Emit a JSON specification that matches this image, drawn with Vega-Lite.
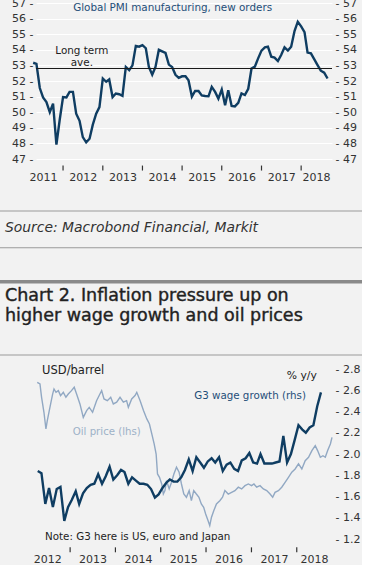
{
  "$schema": "https://vega.github.io/schema/vega-lite/v6.json",
  "background": "#f2f2f2",
  "padding": {"left": 0, "top": -3, "right": 0, "bottom": 0},
  "spacing": 0,
  "config": {
    "view": {"stroke": null},
    "font": "DejaVu Sans",
    "axis": {"labelFont": "DejaVu Sans", "labelFontSize": 11, "labelColor": "#333333", "domain": false, "ticks": false, "tickSize": 0, "labelFlush": false, "labelOverlap": false},
    "text": {"font": "DejaVu Sans"}
  },
  "datasets": {
    "yearsTop": [
      {"date": "2012-01-01"}, {"date": "2013-01-01"}, {"date": "2014-01-01"}, {"date": "2015-01-01"},
      {"date": "2016-01-01"}, {"date": "2017-01-01"}, {"date": "2018-01-01"}
    ],
    "yearsBottom": [
      {"date": "2013-01-01"}, {"date": "2014-01-01"}, {"date": "2015-01-01"},
      {"date": "2016-01-01"}, {"date": "2017-01-01"}, {"date": "2018-01-01"}
    ],
    "pmi": [
      {"date": "2011-04-01", "pmi": 53.17}, {"date": "2011-05-01", "pmi": 53.1}, {"date": "2011-06-01", "pmi": 51.55}, {"date": "2011-07-01", "pmi": 50.95},
      {"date": "2011-08-01", "pmi": 50.65}, {"date": "2011-09-01", "pmi": 50.0}, {"date": "2011-10-01", "pmi": 50.55}, {"date": "2011-11-01", "pmi": 47.92},
      {"date": "2011-12-01", "pmi": 49.5}, {"date": "2012-01-01", "pmi": 50.97}, {"date": "2012-02-01", "pmi": 50.95}, {"date": "2012-03-01", "pmi": 51.3},
      {"date": "2012-04-01", "pmi": 51.3}, {"date": "2012-05-01", "pmi": 49.9}, {"date": "2012-06-01", "pmi": 49.45}, {"date": "2012-07-01", "pmi": 48.4},
      {"date": "2012-08-01", "pmi": 48.07}, {"date": "2012-09-01", "pmi": 48.3}, {"date": "2012-10-01", "pmi": 49.2}, {"date": "2012-11-01", "pmi": 49.9},
      {"date": "2012-12-01", "pmi": 50.33}, {"date": "2013-01-01", "pmi": 52.16}, {"date": "2013-02-01", "pmi": 51.95}, {"date": "2013-03-01", "pmi": 52.1},
      {"date": "2013-04-01", "pmi": 50.97}, {"date": "2013-05-01", "pmi": 51.2}, {"date": "2013-06-01", "pmi": 51.15}, {"date": "2013-07-01", "pmi": 51.05},
      {"date": "2013-08-01", "pmi": 52.9}, {"date": "2013-09-01", "pmi": 52.7}, {"date": "2013-10-01", "pmi": 53.0}, {"date": "2013-11-01", "pmi": 54.25},
      {"date": "2013-12-01", "pmi": 54.2}, {"date": "2014-01-01", "pmi": 54.3}, {"date": "2014-02-01", "pmi": 54.1}, {"date": "2014-03-01", "pmi": 52.9},
      {"date": "2014-04-01", "pmi": 52.4}, {"date": "2014-05-01", "pmi": 52.9}, {"date": "2014-06-01", "pmi": 54.0}, {"date": "2014-07-01", "pmi": 53.9},
      {"date": "2014-08-01", "pmi": 53.8}, {"date": "2014-09-01", "pmi": 53.05}, {"date": "2014-10-01", "pmi": 52.9}, {"date": "2014-11-01", "pmi": 52.4},
      {"date": "2014-12-01", "pmi": 52.2}, {"date": "2015-01-01", "pmi": 52.3}, {"date": "2015-02-01", "pmi": 52.3}, {"date": "2015-03-01", "pmi": 52.05},
      {"date": "2015-04-01", "pmi": 51.0}, {"date": "2015-05-01", "pmi": 51.36}, {"date": "2015-06-01", "pmi": 51.36}, {"date": "2015-07-01", "pmi": 51.08},
      {"date": "2015-08-01", "pmi": 51.04}, {"date": "2015-09-01", "pmi": 51.02}, {"date": "2015-10-01", "pmi": 51.62}, {"date": "2015-11-01", "pmi": 51.3},
      {"date": "2015-12-01", "pmi": 50.87}, {"date": "2016-01-01", "pmi": 51.45}, {"date": "2016-02-01", "pmi": 50.44}, {"date": "2016-03-01", "pmi": 51.4},
      {"date": "2016-04-01", "pmi": 50.4}, {"date": "2016-05-01", "pmi": 50.37}, {"date": "2016-06-01", "pmi": 50.6}, {"date": "2016-07-01", "pmi": 51.2},
      {"date": "2016-08-01", "pmi": 51.1}, {"date": "2016-09-01", "pmi": 51.5}, {"date": "2016-10-01", "pmi": 52.8}, {"date": "2016-11-01", "pmi": 52.92},
      {"date": "2016-12-01", "pmi": 53.45}, {"date": "2017-01-01", "pmi": 53.95}, {"date": "2017-02-01", "pmi": 54.16}, {"date": "2017-03-01", "pmi": 54.2},
      {"date": "2017-04-01", "pmi": 53.56}, {"date": "2017-05-01", "pmi": 53.5}, {"date": "2017-06-01", "pmi": 53.28}, {"date": "2017-07-01", "pmi": 53.67},
      {"date": "2017-08-01", "pmi": 54.16}, {"date": "2017-09-01", "pmi": 53.95}, {"date": "2017-10-01", "pmi": 54.2}, {"date": "2017-11-01", "pmi": 55.2},
      {"date": "2017-12-01", "pmi": 55.8}, {"date": "2018-01-01", "pmi": 55.5}, {"date": "2018-02-01", "pmi": 55.13}, {"date": "2018-03-01", "pmi": 53.82},
      {"date": "2018-04-01", "pmi": 53.77}, {"date": "2018-05-01", "pmi": 53.4}, {"date": "2018-06-01", "pmi": 53.02}, {"date": "2018-07-01", "pmi": 52.66},
      {"date": "2018-08-01", "pmi": 52.53}, {"date": "2018-09-01", "pmi": 52.16}
    ],
    "wage": [
      {"date": "2012-04-15", "wage": 1.84}, {"date": "2012-05-15", "wage": 1.82}, {"date": "2012-06-15", "wage": 1.53}, {"date": "2012-07-15", "wage": 1.68},
      {"date": "2012-08-15", "wage": 1.5}, {"date": "2012-09-15", "wage": 1.67}, {"date": "2012-10-15", "wage": 1.69}, {"date": "2012-11-15", "wage": 1.37},
      {"date": "2012-12-15", "wage": 1.5}, {"date": "2013-01-15", "wage": 1.57}, {"date": "2013-02-15", "wage": 1.65}, {"date": "2013-03-15", "wage": 1.53},
      {"date": "2013-04-15", "wage": 1.63}, {"date": "2013-05-15", "wage": 1.68}, {"date": "2013-06-15", "wage": 1.71}, {"date": "2013-07-15", "wage": 1.72},
      {"date": "2013-08-15", "wage": 1.81}, {"date": "2013-09-15", "wage": 1.72}, {"date": "2013-10-15", "wage": 1.79}, {"date": "2013-11-15", "wage": 1.88},
      {"date": "2013-12-15", "wage": 1.76}, {"date": "2014-01-15", "wage": 1.8}, {"date": "2014-02-15", "wage": 1.85}, {"date": "2014-03-15", "wage": 1.83},
      {"date": "2014-04-15", "wage": 1.72}, {"date": "2014-05-15", "wage": 1.78}, {"date": "2014-06-15", "wage": 1.75}, {"date": "2014-07-15", "wage": 1.72},
      {"date": "2014-08-15", "wage": 1.72}, {"date": "2014-09-15", "wage": 1.71}, {"date": "2014-10-15", "wage": 1.67}, {"date": "2014-11-15", "wage": 1.59},
      {"date": "2014-12-15", "wage": 1.62}, {"date": "2015-01-15", "wage": 1.68}, {"date": "2015-02-15", "wage": 1.73}, {"date": "2015-03-15", "wage": 1.76},
      {"date": "2015-04-15", "wage": 1.74}, {"date": "2015-05-15", "wage": 1.74}, {"date": "2015-06-15", "wage": 1.78}, {"date": "2015-07-15", "wage": 1.85},
      {"date": "2015-08-15", "wage": 1.95}, {"date": "2015-09-15", "wage": 1.84}, {"date": "2015-10-15", "wage": 1.97}, {"date": "2015-11-15", "wage": 1.92},
      {"date": "2015-12-15", "wage": 1.87}, {"date": "2016-01-15", "wage": 1.93}, {"date": "2016-02-15", "wage": 1.96}, {"date": "2016-03-15", "wage": 1.92},
      {"date": "2016-04-15", "wage": 1.97}, {"date": "2016-05-15", "wage": 1.84}, {"date": "2016-06-15", "wage": 1.9}, {"date": "2016-07-15", "wage": 1.92},
      {"date": "2016-08-15", "wage": 1.86}, {"date": "2016-09-15", "wage": 1.84}, {"date": "2016-10-15", "wage": 1.94}, {"date": "2016-11-15", "wage": 1.96},
      {"date": "2016-12-15", "wage": 2.01}, {"date": "2017-01-15", "wage": 1.92}, {"date": "2017-02-15", "wage": 1.91}, {"date": "2017-03-15", "wage": 2.0},
      {"date": "2017-04-15", "wage": 1.91}, {"date": "2017-05-15", "wage": 1.91}, {"date": "2017-06-15", "wage": 1.91}, {"date": "2017-07-15", "wage": 1.92},
      {"date": "2017-08-15", "wage": 1.93}, {"date": "2017-09-15", "wage": 2.17}, {"date": "2017-10-15", "wage": 1.92}, {"date": "2017-11-15", "wage": 2.0},
      {"date": "2017-12-15", "wage": 2.13}, {"date": "2018-01-15", "wage": 2.27}, {"date": "2018-02-15", "wage": 2.23}, {"date": "2018-03-15", "wage": 2.2},
      {"date": "2018-04-15", "wage": 2.25}, {"date": "2018-05-15", "wage": 2.27}, {"date": "2018-06-15", "wage": 2.45}, {"date": "2018-07-15", "wage": 2.58}
    ],
    "oil": [
      {"date": "2012-04-11", "oil": 121.4}, {"date": "2012-05-03", "oil": 120.3}, {"date": "2012-05-16", "oil": 111.7}, {"date": "2012-06-04", "oil": 102.0},
      {"date": "2012-06-20", "oil": 91.2}, {"date": "2012-07-01", "oil": 96.6}, {"date": "2012-07-17", "oil": 103.1}, {"date": "2012-07-28", "oil": 107.4},
      {"date": "2012-08-13", "oil": 113.8}, {"date": "2012-08-24", "oil": 117.1}, {"date": "2012-09-09", "oil": 114.9}, {"date": "2012-09-28", "oil": 116.0},
      {"date": "2012-10-16", "oil": 112.8}, {"date": "2012-11-07", "oil": 114.9}, {"date": "2012-11-28", "oil": 111.7}, {"date": "2012-12-17", "oil": 113.8},
      {"date": "2013-01-12", "oil": 116.0}, {"date": "2013-02-03", "oil": 118.2}, {"date": "2013-02-22", "oil": 113.8}, {"date": "2013-03-21", "oil": 107.4},
      {"date": "2013-04-17", "oil": 98.7}, {"date": "2013-05-14", "oil": 103.1}, {"date": "2013-06-04", "oil": 105.2}, {"date": "2013-07-01", "oil": 102.0},
      {"date": "2013-08-02", "oil": 109.5}, {"date": "2013-08-29", "oil": 113.8}, {"date": "2013-09-12", "oil": 116.0}, {"date": "2013-10-01", "oil": 110.6},
      {"date": "2013-10-28", "oil": 109.5}, {"date": "2013-11-24", "oil": 111.7}, {"date": "2013-12-15", "oil": 107.4}, {"date": "2014-01-11", "oil": 108.5},
      {"date": "2014-02-07", "oil": 111.7}, {"date": "2014-03-06", "oil": 108.5}, {"date": "2014-04-01", "oil": 109.5}, {"date": "2014-04-15", "oil": 105.2},
      {"date": "2014-05-12", "oil": 110.6}, {"date": "2014-06-08", "oil": 112.8}, {"date": "2014-06-22", "oil": 114.9}, {"date": "2014-07-19", "oil": 109.5},
      {"date": "2014-08-15", "oil": 103.1}, {"date": "2014-09-11", "oil": 97.7}, {"date": "2014-10-02", "oil": 94.4}, {"date": "2014-10-21", "oil": 88.0},
      {"date": "2014-11-09", "oil": 81.5}, {"date": "2014-11-25", "oil": 75.0}, {"date": "2014-12-06", "oil": 62.1}, {"date": "2014-12-22", "oil": 59.9},
      {"date": "2015-01-09", "oil": 55.6}, {"date": "2015-01-22", "oil": 49.1}, {"date": "2015-02-04", "oil": 51.3}, {"date": "2015-02-17", "oil": 57.7},
      {"date": "2015-03-10", "oil": 52.4}, {"date": "2015-03-29", "oil": 56.7}, {"date": "2015-04-17", "oil": 62.1}, {"date": "2015-05-08", "oil": 66.4},
      {"date": "2015-05-29", "oil": 63.2}, {"date": "2015-06-17", "oil": 55.6}, {"date": "2015-07-06", "oil": 49.1}, {"date": "2015-07-27", "oil": 47.0},
      {"date": "2015-08-18", "oil": 51.3}, {"date": "2015-09-05", "oil": 44.8}, {"date": "2015-09-24", "oil": 51.3}, {"date": "2015-10-15", "oil": 49.1},
      {"date": "2015-11-05", "oil": 47.0}, {"date": "2015-11-24", "oil": 42.7}, {"date": "2015-12-13", "oil": 40.5}, {"date": "2015-12-29", "oil": 36.2},
      {"date": "2016-01-17", "oil": 31.9}, {"date": "2016-01-31", "oil": 28.7}, {"date": "2016-02-14", "oil": 34.1}, {"date": "2016-03-04", "oil": 38.4},
      {"date": "2016-03-25", "oil": 42.7}, {"date": "2016-04-21", "oil": 44.8}, {"date": "2016-05-13", "oil": 47.0}, {"date": "2016-06-01", "oil": 51.3},
      {"date": "2016-06-28", "oil": 49.1}, {"date": "2016-07-25", "oil": 50.2}, {"date": "2016-08-21", "oil": 51.3}, {"date": "2016-09-17", "oil": 53.5},
      {"date": "2016-10-14", "oil": 52.4}, {"date": "2016-11-10", "oil": 54.5}, {"date": "2016-12-07", "oil": 55.6}, {"date": "2017-01-02", "oil": 54.5},
      {"date": "2017-01-21", "oil": 55.6}, {"date": "2017-02-12", "oil": 53.5}, {"date": "2017-03-11", "oil": 54.5}, {"date": "2017-04-07", "oil": 52.4},
      {"date": "2017-05-04", "oil": 51.3}, {"date": "2017-05-31", "oil": 49.1}, {"date": "2017-06-21", "oil": 47.0}, {"date": "2017-07-10", "oil": 50.2},
      {"date": "2017-08-06", "oil": 51.3}, {"date": "2017-09-02", "oil": 53.5}, {"date": "2017-09-29", "oil": 56.7}, {"date": "2017-10-26", "oil": 59.9},
      {"date": "2017-11-22", "oil": 63.2}, {"date": "2017-12-19", "oil": 65.3}, {"date": "2018-01-15", "oil": 68.6}, {"date": "2018-02-11", "oil": 65.3},
      {"date": "2018-03-10", "oil": 70.7}, {"date": "2018-04-06", "oil": 72.9}, {"date": "2018-05-03", "oil": 77.2}, {"date": "2018-05-30", "oil": 80.4},
      {"date": "2018-06-18", "oil": 77.2}, {"date": "2018-07-10", "oil": 72.9}, {"date": "2018-07-31", "oil": 73.9}, {"date": "2018-08-19", "oil": 72.9},
      {"date": "2018-09-07", "oil": 77.2}, {"date": "2018-09-29", "oil": 81.5}, {"date": "2018-10-12", "oil": 85.8}
    ]
  },
  "vconcat": [
    {
      "width": 296,
      "height": 156,
      "layer": [
        {
          "data": {"name": "pmi"},
          "mark": {"type": "line", "color": "#0f3d62", "strokeWidth": 2.4},
          "encoding": {
            "x": {
              "field": "date", "type": "temporal",
              "scale": {"domain": [{"year": 2011, "month": 4, "date": 27}, {"year": 2018, "month": 10, "date": 12}]},
              "axis": {
                "title": null, "grid": false, "ticks": false, "tickSize": 0,
                "offset": 0, "labelPadding": 12.5,
                "values": [
                  {"year": 2011, "month": 7, "date": 1}, {"year": 2012, "month": 7, "date": 1}, {"year": 2013, "month": 7, "date": 1},
                  {"year": 2014, "month": 7, "date": 1}, {"year": 2015, "month": 7, "date": 1}, {"year": 2016, "month": 7, "date": 1},
                  {"year": 2017, "month": 7, "date": 1}, {"year": 2018, "month": 5, "date": 18}
                ],
                "format": "%Y"
              }
            },
            "y": {
              "field": "pmi", "type": "quantitative",
              "scale": {"domain": [47, 57], "zero": false, "nice": false},
              "axis": {"orient": "left", "title": null, "values": [47, 48, 49, 50, 51, 52, 53, 54, 55, 56, 57], "labelExpr": "datum.label + ' -'", "labelPadding": 3, "minExtent": 36, "grid": true, "gridColor": "#ffffff", "gridWidth": 1}
            }
          }
        },
        {
          "data": {"values": [{}]},
          "mark": {"type": "rule", "color": "#1a1a1a", "strokeWidth": 1.2},
          "encoding": {
            "y": {"datum": 52.8, "type": "quantitative", "axis": {"orient": "right", "title": null, "values": [47, 48, 49, 50, 51, 52, 53, 54, 55, 56, 57], "labelExpr": "'- ' + datum.label", "labelPadding": 3, "grid": false}}
          }
        },
        {
          "data": {"name": "yearsTop"},
          "mark": {"type": "rule", "color": "#333333", "strokeWidth": 1.2},
          "encoding": {
            "x": {"field": "date", "type": "temporal"},
            "y": {"datum": 46.58, "type": "quantitative", "axis": null},
            "y2": {"datum": 46.26}
          }
        },
        {
          "data": {"values": [{}]},
          "mark": {"type": "text", "text": "Global PMI manufacturing, new orders", "fontSize": 10.4, "color": "#1f4e79", "align": "left", "baseline": "middle"},
          "encoding": {
            "x": {"datum": {"year": 2012, "month": 4, "date": 3}, "type": "temporal"},
            "y": {"datum": 56.68, "type": "quantitative", "axis": null}
          }
        },
        {
          "data": {"values": [{}]},
          "mark": {"type": "text", "text": ["Long term", "ave."], "lineHeight": 12, "fontSize": 10.4, "color": "#222222", "align": "center", "baseline": "alphabetic"},
          "encoding": {
            "x": {"datum": {"year": 2012, "month": 6, "date": 22}, "type": "temporal"},
            "y": {"datum": 53.7, "type": "quantitative", "axis": null}
          }
        }
      ],
      "resolve": {"axis": {"y": "independent"}}
    },
    {
      "width": 326,
      "height": 180,
      "data": {"values": [{}]},
      "layer": [
        {
          "mark": {"type": "rect", "color": "#9a9a9a"},
          "encoding": {
            "x": {"datum": 0, "type": "quantitative", "scale": {"domain": [36, 362], "nice": false, "zero": false}, "axis": null},
            "x2": {"datum": 362},
            "y": {"datum": 27.5, "type": "quantitative", "scale": {"domain": [0, 180], "reverse": true, "nice": false, "zero": false}, "axis": null},
            "y2": {"datum": 28.5}
          }
        },
        {
          "mark": {"type": "rect", "color": "#9a9a9a"},
          "encoding": {"x": {"datum": 0, "type": "quantitative", "axis": null}, "x2": {"datum": 362}, "y": {"datum": 64.2, "type": "quantitative", "axis": null}, "y2": {"datum": 65.2}}
        },
        {
          "mark": {"type": "rect", "color": "#8a8a8a"},
          "encoding": {"x": {"datum": 0, "type": "quantitative", "axis": null}, "x2": {"datum": 362}, "y": {"datum": 97, "type": "quantitative", "axis": null}, "y2": {"datum": 100.5}}
        },
        {
          "mark": {"type": "rect", "color": "#9a9a9a"},
          "encoding": {"x": {"datum": 0, "type": "quantitative", "axis": null}, "x2": {"datum": 362}, "y": {"datum": 171.5, "type": "quantitative", "axis": null}, "y2": {"datum": 172.5}}
        },
        {
          "mark": {"type": "text", "text": "Source: Macrobond Financial, Markit", "fontSize": 13.9, "fontStyle": "italic", "color": "#333333", "align": "left", "baseline": "alphabetic"},
          "encoding": {
            "x": {"datum": 5, "type": "quantitative", "axis": null},
            "y": {"datum": 48.7, "type": "quantitative", "axis": null}
          }
        },
        {
          "mark": {"type": "text", "text": ["Chart 2. Inflation pressure up on", "higher wage growth and oil prices"], "lineHeight": 20, "fontSize": 17.5, "color": "#222222", "stroke": "#222222", "strokeWidth": 0.4, "align": "left", "baseline": "alphabetic"},
          "encoding": {
            "x": {"datum": 5, "type": "quantitative", "axis": null},
            "y": {"datum": 118, "type": "quantitative", "axis": null}
          }
        }
      ]
    },
    {
      "width": 296,
      "height": 170,
      "layer": [
        {
          "layer": [
            {
              "data": {"name": "oil"},
              "mark": {"type": "line", "color": "#91a8c3", "strokeWidth": 1.4},
              "encoding": {
                "x": {
                  "field": "date", "type": "temporal",
                  "scale": {"domain": [{"year": 2012, "month": 4, "date": 1}, {"year": 2018, "month": 10, "date": 12}]},
                  "axis": {
                    "title": null, "grid": false, "ticks": false, "tickSize": 0,
                    "offset": 0, "labelPadding": 14.3,
                    "values": [
                      {"year": 2012, "month": 7, "date": 1}, {"year": 2013, "month": 7, "date": 1}, {"year": 2014, "month": 7, "date": 1},
                      {"year": 2015, "month": 7, "date": 1}, {"year": 2016, "month": 7, "date": 1}, {"year": 2017, "month": 7, "date": 1},
                      {"year": 2018, "month": 5, "date": 20}
                    ],
                    "format": "%Y"
                  }
                },
                "y": {
                  "field": "oil", "type": "quantitative",
                  "scale": {"domain": [20, 130], "zero": false, "nice": false},
                  "axis": {"orient": "left", "title": null, "values": [20, 30, 40, 50, 60, 70, 80, 90, 100, 110, 120, 130], "labelExpr": "datum.label + ' -'", "labelPadding": 3, "minExtent": 36, "grid": true, "gridColor": "#ffffff", "gridWidth": 1}
                }
              }
            },
            {
              "data": {"name": "yearsBottom"},
              "mark": {"type": "rule", "color": "#333333", "strokeWidth": 1.2},
              "encoding": {
                "x": {"field": "date", "type": "temporal"},
                "y": {"datum": 14.6, "type": "quantitative", "axis": null},
                "y2": {"datum": 11.4}
              }
            },
            {
              "data": {"values": [{}]},
              "mark": {"type": "text", "text": "USD/barrel", "fontSize": 11.5, "color": "#222222", "align": "left", "baseline": "middle"},
              "encoding": {
                "x": {"datum": {"year": 2012, "month": 5, "date": 20}, "type": "temporal"},
                "y": {"datum": 128.5, "type": "quantitative", "axis": null}
              }
            },
            {
              "data": {"values": [{}]},
              "mark": {"type": "text", "text": "% y/y", "fontSize": 10.8, "color": "#222222", "align": "right", "baseline": "middle"},
              "encoding": {
                "x": {"datum": {"year": 2018, "month": 6, "date": 12}, "type": "temporal"},
                "y": {"datum": 125.7, "type": "quantitative", "axis": null}
              }
            },
            {
              "data": {"values": [{}]},
              "mark": {"type": "text", "text": "G3 wage growth (rhs)", "fontSize": 10.3, "color": "#1f4e79", "align": "right", "baseline": "middle"},
              "encoding": {
                "x": {"datum": {"year": 2018, "month": 3, "date": 16}, "type": "temporal"},
                "y": {"datum": 112.8, "type": "quantitative", "axis": null}
              }
            },
            {
              "data": {"values": [{}]},
              "mark": {"type": "text", "text": "Oil price (lhs)", "fontSize": 10.2, "color": "#9db1c7", "align": "left", "baseline": "middle"},
              "encoding": {
                "x": {"datum": {"year": 2013, "month": 1, "date": 22}, "type": "temporal"},
                "y": {"datum": 89.0, "type": "quantitative", "axis": null}
              }
            },
            {
              "data": {"values": [{}]},
              "mark": {"type": "text", "text": "Note: G3 here is US, euro and Japan", "fontSize": 10.3, "color": "#222222", "align": "left", "baseline": "middle"},
              "encoding": {
                "x": {"datum": {"year": 2012, "month": 6, "date": 13}, "type": "temporal"},
                "y": {"datum": 21.6, "type": "quantitative", "axis": null}
              }
            }
          ]
        },
        {
          "data": {"name": "wage"},
          "mark": {"type": "line", "color": "#0f3d62", "strokeWidth": 2.4},
          "encoding": {
            "x": {"field": "date", "type": "temporal", "scale": {"domain": [{"year": 2012, "month": 4, "date": 1}, {"year": 2018, "month": 10, "date": 12}]}},
            "y": {
              "field": "wage", "type": "quantitative",
              "scale": {"domain": [1.2, 2.8], "zero": false, "nice": false},
              "axis": {"orient": "right", "title": null, "values": [1.2, 1.4, 1.6, 1.8, 2.0, 2.2, 2.4, 2.6, 2.8], "labelExpr": "'- ' + format(datum.value, '.1f')", "labelPadding": 3, "grid": false}
            }
          }
        }
      ],
      "resolve": {"scale": {"y": "independent"}}
    }
  ]
}
